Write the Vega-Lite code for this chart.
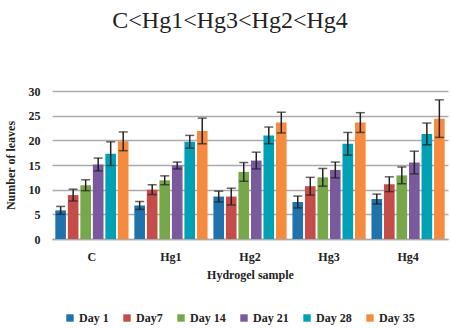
{
  "$schema": "https://vega.github.io/schema/vega-lite/v6.json",
  "width": 396,
  "height": 148,
  "autosize": {"type": "none"},
  "padding": {"left": 52, "top": 91, "right": 3, "bottom": 89},
  "background": "white",
  "title": {"text": "C<Hg1<Hg3<Hg2<Hg4", "anchor": "middle", "dx": -20, "offset": 52},
  "config": {
    "view": {"stroke": null},
    "font": "Liberation Serif",
    "title": {"font": "Liberation Serif", "fontSize": 24, "fontWeight": "normal", "color": "#222222"},
    "axis": {"labelFont": "Liberation Serif", "labelFontWeight": "bold", "labelFontSize": 12, "labelColor": "#222222", "labelPadding": 12, "ticks": false, "titleFont": "Liberation Serif", "titleFontSize": 12, "titleFontWeight": "bold", "titleColor": "#222222"},
    "axisY": {"labelOverlap": false, "grid": true, "gridColor": "#aaaaaa", "gridWidth": 1.5, "domain": false, "titlePadding": 11},
    "axisX": {"domainColor": "#aaaaaa", "domainWidth": 1.5, "titlePadding": 7, "labelAngle": 0},
    "legend": {"labelFont": "Liberation Serif", "labelFontWeight": "bold", "labelFontSize": 12, "labelColor": "#222222"}
  },
  "data": {"values": [
    {"s": "C", "d": "Day 1", "m": 5.8, "lo": 5.0, "hi": 6.6},
    {"s": "C", "d": "Day7", "m": 8.9, "lo": 7.7, "hi": 10.1},
    {"s": "C", "d": "Day 14", "m": 10.9, "lo": 9.8, "hi": 12.0},
    {"s": "C", "d": "Day 21", "m": 15.1, "lo": 13.8, "hi": 16.4},
    {"s": "C", "d": "Day 28", "m": 17.3, "lo": 14.9, "hi": 19.7},
    {"s": "C", "d": "Day 35", "m": 19.8, "lo": 17.9, "hi": 21.7},
    {"s": "Hg1", "d": "Day 1", "m": 6.8, "lo": 6.0, "hi": 7.6},
    {"s": "Hg1", "d": "Day7", "m": 10.0, "lo": 9.0, "hi": 11.0},
    {"s": "Hg1", "d": "Day 14", "m": 11.9, "lo": 11.0, "hi": 12.8},
    {"s": "Hg1", "d": "Day 21", "m": 14.9, "lo": 14.2, "hi": 15.6},
    {"s": "Hg1", "d": "Day 28", "m": 19.7, "lo": 18.4, "hi": 21.0},
    {"s": "Hg1", "d": "Day 35", "m": 21.9, "lo": 19.3, "hi": 24.5},
    {"s": "Hg2", "d": "Day 1", "m": 8.6, "lo": 7.5, "hi": 9.7},
    {"s": "Hg2", "d": "Day7", "m": 8.6, "lo": 6.9, "hi": 10.3},
    {"s": "Hg2", "d": "Day 14", "m": 13.6, "lo": 11.7, "hi": 15.5},
    {"s": "Hg2", "d": "Day 21", "m": 15.9, "lo": 14.2, "hi": 17.6},
    {"s": "Hg2", "d": "Day 28", "m": 21.0, "lo": 19.3, "hi": 22.7},
    {"s": "Hg2", "d": "Day 35", "m": 23.6, "lo": 21.5, "hi": 25.7},
    {"s": "Hg3", "d": "Day 1", "m": 7.5, "lo": 6.3, "hi": 8.7},
    {"s": "Hg3", "d": "Day7", "m": 10.7, "lo": 8.9, "hi": 12.5},
    {"s": "Hg3", "d": "Day 14", "m": 12.5, "lo": 10.7, "hi": 14.3},
    {"s": "Hg3", "d": "Day 21", "m": 14.0, "lo": 12.4, "hi": 15.6},
    {"s": "Hg3", "d": "Day 28", "m": 19.3, "lo": 17.0, "hi": 21.6},
    {"s": "Hg3", "d": "Day 35", "m": 23.6, "lo": 21.6, "hi": 25.6},
    {"s": "Hg4", "d": "Day 1", "m": 8.1, "lo": 7.1, "hi": 9.1},
    {"s": "Hg4", "d": "Day7", "m": 11.1, "lo": 9.6, "hi": 12.6},
    {"s": "Hg4", "d": "Day 14", "m": 12.9, "lo": 11.2, "hi": 14.6},
    {"s": "Hg4", "d": "Day 21", "m": 15.5, "lo": 13.2, "hi": 17.8},
    {"s": "Hg4", "d": "Day 28", "m": 21.3, "lo": 19.1, "hi": 23.5},
    {"s": "Hg4", "d": "Day 35", "m": 24.4, "lo": 20.6, "hi": 28.2}
  ]},
  "encoding": {
    "x": {"field": "s", "type": "nominal", "sort": ["C", "Hg1", "Hg2", "Hg3", "Hg4"],
      "scale": {"paddingInner": 0.05, "paddingOuter": 0.03},
      "axis": {"title": "Hydrogel sample"}},
    "xOffset": {"field": "d", "type": "nominal", "sort": ["Day 1", "Day7", "Day 14", "Day 21", "Day 28", "Day 35"], "scale": {"paddingInner": 0.15, "paddingOuter": 0.075}}
  },
  "layer": [
    {
      "mark": {"type": "bar"},
      "encoding": {
        "y": {"field": "m", "type": "quantitative", "scale": {"domain": [0, 30]},
          "axis": {"title": "Number of leaves", "values": [0, 5, 10, 15, 20, 25, 30]}},
        "color": {"field": "d", "type": "nominal", "sort": ["Day 1", "Day7", "Day 14", "Day 21", "Day 28", "Day 35"],
          "scale": {"domain": ["Day 1", "Day7", "Day 14", "Day 21", "Day 28", "Day 35"], "range": ["#1f72ab", "#c44d4a", "#76a84a", "#7a5a9c", "#00a0b6", "#f68b3f"]},
          "legend": {"title": null, "orient": "none", "direction": "horizontal", "legendX": 12, "legendY": 221, "symbolType": "square", "symbolSize": 55, "symbolStrokeWidth": 0, "columnPadding": 12, "labelOffset": 3}}
      }
    },
    {
      "mark": {"type": "rule", "color": "#222222", "strokeWidth": 1.5},
      "encoding": {"y": {"field": "lo", "type": "quantitative", "axis": {"title": "Number of leaves", "values": [0, 5, 10, 15, 20, 25, 30]}}, "y2": {"field": "hi"}}
    },
    {
      "mark": {"type": "tick", "color": "#222222", "thickness": 1.5, "size": 9, "orient": "horizontal"},
      "encoding": {"y": {"field": "lo", "type": "quantitative", "axis": {"title": "Number of leaves", "values": [0, 5, 10, 15, 20, 25, 30]}}}
    },
    {
      "mark": {"type": "tick", "color": "#222222", "thickness": 1.5, "size": 9, "orient": "horizontal"},
      "encoding": {"y": {"field": "hi", "type": "quantitative", "axis": {"title": "Number of leaves", "values": [0, 5, 10, 15, 20, 25, 30]}}}
    }
  ]
}
